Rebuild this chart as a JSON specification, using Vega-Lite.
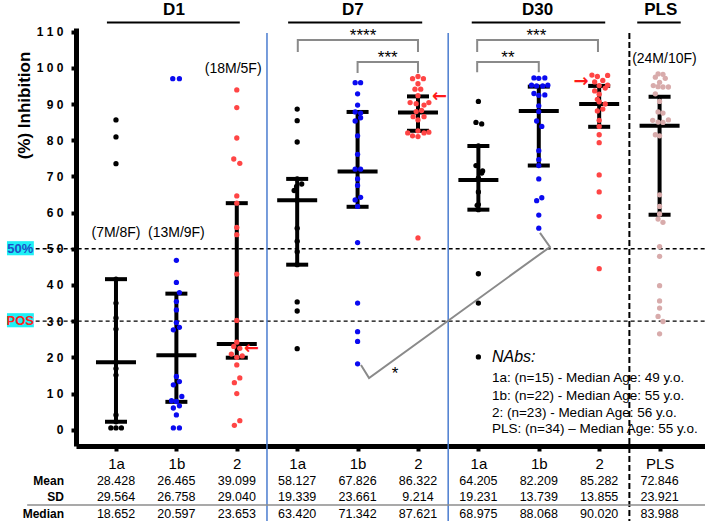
{
  "$schema": "https://vega.github.io/schema/vega-lite/v6.json",
  "width": 629,
  "height": 418,
  "autosize": {"type": "none"},
  "padding": {"left": 76, "top": 28, "right": 0, "bottom": 75},
  "background": "white",
  "config": {
    "view": {"stroke": null},
    "font": "Liberation Sans, Arial, sans-serif",
    "axisX": {"values": [0,1,2,3,4,5,6,7,8,9], "tickCount": 10, "labelExpr": "['1a','1b','2','1a','1b','2','1a','1b','2','PLS'][datum.value]", "grid": false, "domainColor": "black", "domainWidth": 5, "tickColor": "black", "tickWidth": 4, "tickSize": 5, "labelFont": "Liberation Sans Narrow, Liberation Sans, Arial, sans-serif", "labelFontSize": 15, "labelColor": "black", "labelPadding": 5, "labelFlush": false, "labelOverlap": false},
    "axisY": {"values": [0,10,20,30,40,50,60,70,80,90,100,110], "tickCount": 12, "labelExpr": "join(split(datum.label, ''), ' ')", "grid": false, "domainColor": "black", "domainWidth": 5, "tickColor": "black", "tickWidth": 4, "tickSize": 5, "labelFontWeight": "bold", "labelFontSize": 12, "labelColor": "black", "labelPadding": 8, "labelOverlap": false, "labelBound": false, "titleFontSize": 17, "titleFontWeight": "bold", "titleColor": "black", "titleX": -52, "titleY": 77, "titleAngle": -90, "titleAlign": "center", "titleBaseline": "middle"}
  },
  "resolve": {"scale": {"color": "independent"}},
  "datasets": {
    "dots": [
      {"g":"1a","x":0,"y":85.6},{"g":"1a","x":0,"y":80.9},{"g":"1a","x":0,"y":73.5},{"g":"1a","x":0,"y":41.6},{"g":"1a","x":0,"y":35.0},{"g":"1a","x":0,"y":30.9},{"g":"1a","x":0,"y":27.8},{"g":"1a","x":0,"y":18.7},{"g":"1a","x":0,"y":16.9},{"g":"1a","x":0,"y":15.1},{"g":"1a","x":0,"y":4.1},{"g":"1a","x":0,"y":2.2},{"g":"1a","x":-0.085,"y":0.5},{"g":"1a","x":0,"y":0.5},{"g":"1a","x":0.09,"y":0.5},
      {"g":"1b","x":0.94,"y":97.0},{"g":"1b","x":1.05,"y":97.0},{"g":"1b","x":1.0,"y":46.8},{"g":"1b","x":1.0,"y":40.7},{"g":"1b","x":1.05,"y":37.9},{"g":"1b","x":1.0,"y":35.4},{"g":"1b","x":1.0,"y":33.1},{"g":"1b","x":1.0,"y":29.6},{"g":"1b","x":0.95,"y":27.6},{"g":"1b","x":1.05,"y":28.3},{"g":"1b","x":1.0,"y":14.7},{"g":"1b","x":0.95,"y":12.4},{"g":"1b","x":1.05,"y":13.3},{"g":"1b","x":1.09,"y":9.2},{"g":"1b","x":0.92,"y":8.0},{"g":"1b","x":1.0,"y":7.8},{"g":"1b","x":0.95,"y":6.0},{"g":"1b","x":1.05,"y":6.6},{"g":"1b","x":1.0,"y":4.1},{"g":"1b","x":0.95,"y":0.5},{"g":"1b","x":1.05,"y":0.5},
      {"g":"2","x":2,"y":93.9},{"g":"2","x":2,"y":89.0},{"g":"2","x":2,"y":80.6},{"g":"2","x":1.95,"y":74.8},{"g":"2","x":2.05,"y":73.6},{"g":"2","x":2,"y":64.6},{"g":"2","x":2,"y":62.6},{"g":"2","x":2,"y":55.9},{"g":"2","x":2,"y":53.9},{"g":"2","x":2,"y":43.0},{"g":"2","x":2,"y":30.2},{"g":"2","x":2,"y":24.2},{"g":"2","x":1.95,"y":23.0},{"g":"2","x":2.05,"y":22.5},{"g":"2","x":1.91,"y":20.9},{"g":"2","x":2.09,"y":20.4},{"g":"2","x":2,"y":20.0},{"g":"2","x":2,"y":17.9},{"g":"2","x":2.05,"y":14.3},{"g":"2","x":1.96,"y":13.0},{"g":"2","x":2,"y":10.0},{"g":"2","x":2.05,"y":2.5},{"g":"2","x":1.96,"y":1.2},
      {"g":"1a","x":3,"y":88.6},{"g":"1a","x":3,"y":85.4},{"g":"1a","x":3,"y":79.5},{"g":"1a","x":3,"y":69.3},{"g":"1a","x":3.075,"y":67.9},{"g":"1a","x":2.99,"y":67.2},{"g":"1a","x":2.95,"y":66.1},{"g":"1a","x":3,"y":63.4},{"g":"1a","x":3,"y":55.7},{"g":"1a","x":3,"y":52.1},{"g":"1a","x":3,"y":49.2},{"g":"1a","x":3,"y":45.6},{"g":"1a","x":3,"y":35.3},{"g":"1a","x":3,"y":32.8},{"g":"1a","x":3,"y":22.4},
      {"g":"1b","x":3.96,"y":95.9},{"g":"1b","x":4.05,"y":95.9},{"g":"1b","x":4,"y":92.8},{"g":"1b","x":4,"y":89.7},{"g":"1b","x":3.96,"y":87.8},{"g":"1b","x":4.05,"y":87.5},{"g":"1b","x":4.05,"y":86.2},{"g":"1b","x":3.96,"y":85.3},{"g":"1b","x":4,"y":81.2},{"g":"1b","x":4,"y":76.1},{"g":"1b","x":3.96,"y":72.0},{"g":"1b","x":4.05,"y":72.0},{"g":"1b","x":4,"y":69.3},{"g":"1b","x":4,"y":67.5},{"g":"1b","x":4.05,"y":64.2},{"g":"1b","x":3.96,"y":63.5},{"g":"1b","x":4,"y":61.7},{"g":"1b","x":4,"y":51.7},{"g":"1b","x":4,"y":35.0},{"g":"1b","x":4,"y":27.1},{"g":"1b","x":4,"y":24.4},{"g":"1b","x":4,"y":18.2},
      {"g":"2","x":5,"y":97.6},{"g":"2","x":4.91,"y":97.0},{"g":"2","x":5.09,"y":97.0},{"g":"2","x":5,"y":95.6},{"g":"2","x":4.95,"y":94.1},{"g":"2","x":5.045,"y":94.1},{"g":"2","x":5,"y":92.3},{"g":"2","x":4.87,"y":90.4},{"g":"2","x":4.97,"y":90.1},{"g":"2","x":5.1,"y":89.7},{"g":"2","x":5.18,"y":90.4},{"g":"2","x":4.97,"y":87.9},{"g":"2","x":5.06,"y":88.2},{"g":"2","x":4.92,"y":86.5},{"g":"2","x":5.1,"y":86.5},{"g":"2","x":5,"y":85.6},{"g":"2","x":4.83,"y":82.0},{"g":"2","x":4.91,"y":81.2},{"g":"2","x":5,"y":82.6},{"g":"2","x":5.1,"y":82.0},{"g":"2","x":5.18,"y":82.2},{"g":"2","x":5,"y":81.0},{"g":"2","x":5,"y":53.0},
      {"g":"1a","x":6,"y":90.7},{"g":"1a","x":5.96,"y":84.9},{"g":"1a","x":6.055,"y":84.5},{"g":"1a","x":6,"y":78.4},{"g":"1a","x":5.96,"y":73.0},{"g":"1a","x":6.07,"y":71.5},{"g":"1a","x":6.055,"y":70.9},{"g":"1a","x":6,"y":69.5},{"g":"1a","x":6,"y":65.7},{"g":"1a","x":6,"y":62.2},{"g":"1a","x":5.98,"y":62.0},{"g":"1a","x":6,"y":60.8},{"g":"1a","x":6,"y":43.1},{"g":"1a","x":6,"y":35.0},{"g":"1a","x":6,"y":20.1},
      {"g":"1b","x":6.92,"y":97.2},{"g":"1b","x":7.0,"y":97.1},{"g":"1b","x":7.1,"y":97.2},{"g":"1b","x":6.88,"y":95.2},{"g":"1b","x":6.965,"y":95.0},{"g":"1b","x":7.065,"y":95.0},{"g":"1b","x":7.15,"y":95.2},{"g":"1b","x":6.92,"y":92.9},{"g":"1b","x":7,"y":92.4},{"g":"1b","x":7.1,"y":92.5},{"g":"1b","x":7,"y":89.5},{"g":"1b","x":7,"y":87.9},{"g":"1b","x":6.965,"y":85.3},{"g":"1b","x":7.05,"y":83.8},{"g":"1b","x":7,"y":77.1},{"g":"1b","x":7,"y":74.6},{"g":"1b","x":7,"y":73.0},{"g":"1b","x":7,"y":69.3},{"g":"1b","x":7.05,"y":64.1},{"g":"1b","x":6.965,"y":63.3},{"g":"1b","x":7,"y":59.3},{"g":"1b","x":7,"y":55.7},
      {"g":"2","x":7.88,"y":98.0},{"g":"2","x":7.97,"y":97.6},{"g":"2","x":8.14,"y":97.9},{"g":"2","x":7.925,"y":96.1},{"g":"2","x":8.06,"y":96.5},{"g":"2","x":8,"y":95.1},{"g":"2","x":8.14,"y":95.2},{"g":"2","x":7.925,"y":93.6},{"g":"2","x":8.1,"y":94.4},{"g":"2","x":8,"y":92.7},{"g":"2","x":7.97,"y":91.3},{"g":"2","x":8,"y":90.6},{"g":"2","x":8.1,"y":90.0},{"g":"2","x":7.97,"y":88.1},{"g":"2","x":8.06,"y":88.6},{"g":"2","x":8,"y":85.5},{"g":"2","x":8,"y":83.8},{"g":"2","x":8,"y":81.5},{"g":"2","x":8,"y":79.3},{"g":"2","x":8,"y":70.4},{"g":"2","x":8,"y":65.7},{"g":"2","x":8,"y":58.9},{"g":"2","x":8,"y":44.5},
      {"g":"PLS","x":8.975,"y":98.3},{"g":"PLS","x":9.056,"y":98.2},{"g":"PLS","x":8.93,"y":97.4},{"g":"PLS","x":9.094,"y":97.1},{"g":"PLS","x":9,"y":96.0},{"g":"PLS","x":8.896,"y":95.1},{"g":"PLS","x":8.975,"y":94.8},{"g":"PLS","x":9.056,"y":94.7},{"g":"PLS","x":9.146,"y":94.7},{"g":"PLS","x":8.93,"y":92.8},{"g":"PLS","x":9,"y":90.7},{"g":"PLS","x":8.975,"y":87.8},{"g":"PLS","x":9.056,"y":87.5},{"g":"PLS","x":8.886,"y":85.5},{"g":"PLS","x":8.975,"y":85.0},{"g":"PLS","x":9.056,"y":84.9},{"g":"PLS","x":9.146,"y":85.6},{"g":"PLS","x":8.93,"y":81.5},{"g":"PLS","x":9,"y":81.2},{"g":"PLS","x":9,"y":64.9},{"g":"PLS","x":9,"y":61.7},{"g":"PLS","x":9,"y":59.6},{"g":"PLS","x":8.975,"y":58.2},{"g":"PLS","x":9.056,"y":57.3},{"g":"PLS","x":9,"y":50.6},{"g":"PLS","x":9,"y":47.9},{"g":"PLS","x":9,"y":39.8},{"g":"PLS","x":9,"y":35.6},{"g":"PLS","x":9,"y":33.6},{"g":"PLS","x":8.975,"y":31.3},{"g":"PLS","x":9.056,"y":29.9},{"g":"PLS","x":9,"y":26.5}
    ],
    "summary": [
      {"c":0,"q1":2.2,"med":18.652,"q3":41.6},
      {"c":1,"q1":7.7,"med":20.597,"q3":37.6},
      {"c":2,"q1":19.9,"med":23.653,"q3":62.6},
      {"c":3,"q1":45.6,"med":63.42,"q3":69.3},
      {"c":4,"q1":61.6,"med":71.342,"q3":87.8},
      {"c":5,"q1":82.6,"med":87.621,"q3":92.1},
      {"c":6,"q1":60.8,"med":68.975,"q3":78.4},
      {"c":7,"q1":73.0,"med":88.068,"q3":94.8},
      {"c":8,"q1":83.7,"med":90.02,"q3":95.0},
      {"c":9,"q1":59.4,"med":83.988,"q3":92.0}
    ],
    "table": [
      {"c":0,"stat":"Mean","v":"28.428"},{"c":1,"stat":"Mean","v":"26.465"},{"c":2,"stat":"Mean","v":"39.099"},{"c":3,"stat":"Mean","v":"58.127"},{"c":4,"stat":"Mean","v":"67.826"},{"c":5,"stat":"Mean","v":"86.322"},{"c":6,"stat":"Mean","v":"64.205"},{"c":7,"stat":"Mean","v":"82.209"},{"c":8,"stat":"Mean","v":"85.282"},{"c":9,"stat":"Mean","v":"72.846"},
      {"c":0,"stat":"SD","v":"29.564"},{"c":1,"stat":"SD","v":"26.758"},{"c":2,"stat":"SD","v":"29.040"},{"c":3,"stat":"SD","v":"19.339"},{"c":4,"stat":"SD","v":"23.661"},{"c":5,"stat":"SD","v":"9.214"},{"c":6,"stat":"SD","v":"19.231"},{"c":7,"stat":"SD","v":"13.739"},{"c":8,"stat":"SD","v":"13.855"},{"c":9,"stat":"SD","v":"23.921"},
      {"c":0,"stat":"Median","v":"18.652"},{"c":1,"stat":"Median","v":"20.597"},{"c":2,"stat":"Median","v":"23.653"},{"c":3,"stat":"Median","v":"63.420"},{"c":4,"stat":"Median","v":"71.342"},{"c":5,"stat":"Median","v":"87.621"},{"c":6,"stat":"Median","v":"68.975"},{"c":7,"stat":"Median","v":"88.068"},{"c":8,"stat":"Median","v":"90.020"},{"c":9,"stat":"Median","v":"83.988"}
    ],
    "brackets": [
      {"b":1,"o":0,"x":3.01,"y":104.4},{"b":1,"o":1,"x":3.01,"y":107.7},{"b":1,"o":2,"x":5.0,"y":107.7},{"b":1,"o":3,"x":5.0,"y":104.4},
      {"b":2,"o":0,"x":4.0,"y":98.6},{"b":2,"o":1,"x":4.0,"y":101.6},{"b":2,"o":2,"x":5.0,"y":101.6},{"b":2,"o":3,"x":5.0,"y":98.6},
      {"b":3,"o":0,"x":5.98,"y":104.4},{"b":3,"o":1,"x":5.98,"y":107.7},{"b":3,"o":2,"x":7.98,"y":107.7},{"b":3,"o":3,"x":7.98,"y":104.4},
      {"b":4,"o":0,"x":5.98,"y":98.8},{"b":4,"o":1,"x":5.98,"y":101.6},{"b":4,"o":2,"x":7.0,"y":101.6},{"b":4,"o":3,"x":7.0,"y":98.8},
      {"b":5,"o":0,"x":4.056,"y":17.9},{"b":5,"o":1,"x":4.19,"y":14.3},{"b":5,"o":2,"x":7.185,"y":50.5},{"b":5,"o":3,"x":7.02,"y":54.4}
    ]
  },
  "layer": [
    {
      "data": {"values": [{"y": 50}, {"y": 30}]},
      "mark": {"type": "rule", "strokeDash": [4, 3], "strokeWidth": 1.3, "color": "black"},
      "encoding": {
        "x": {"datum": -1.33, "type": "quantitative", "scale": {"domain": [-0.662, 9.752], "nice": false, "zero": false}},
        "x2": {"datum": 9.752},
        "y": {"field": "y", "type": "quantitative", "scale": {"domain": [-4.5, 111], "nice": false, "zero": false}}
      }
    },
    {
      "data": {"values": [{"x": 2.5}, {"x": 5.5}]},
      "mark": {"type": "rule", "color": "#4a7ccf", "strokeWidth": 1.5},
      "encoding": {
        "x": {"field": "x", "type": "quantitative", "scale": {"domain": [-0.662, 9.752], "nice": false, "zero": false}},
        "y": {"datum": 109.6, "type": "quantitative", "scale": {"domain": [-4.5, 111], "nice": false, "zero": false}},
        "y2": {"datum": -26}
      }
    },
    {
      "data": {"values": [{"x": 8.5}]},
      "mark": {"type": "rule", "color": "black", "strokeWidth": 2, "strokeDash": [6, 3]},
      "encoding": {
        "x": {"field": "x", "type": "quantitative", "scale": {"domain": [-0.662, 9.752], "nice": false, "zero": false}},
        "y": {"datum": 109.6, "type": "quantitative", "scale": {"domain": [-4.5, 111], "nice": false, "zero": false}},
        "y2": {"datum": -26}
      }
    },
    {
      "data": {"values": [{"a": -0.15, "b": 2.05}, {"a": 2.85, "b": 5.07}, {"a": 5.89, "b": 8.1}, {"a": 8.63, "b": 9.35}]},
      "mark": {"type": "rule", "color": "black", "strokeWidth": 2},
      "encoding": {
        "x": {"field": "a", "type": "quantitative", "scale": {"domain": [-0.662, 9.752], "nice": false, "zero": false}},
        "x2": {"field": "b"},
        "y": {"datum": 112.5, "type": "quantitative", "scale": {"domain": [-4.5, 111], "nice": false, "zero": false}}
      }
    },
    {
      "data": {"values": [{"x": 0.96, "t": "D1"}, {"x": 3.92, "t": "D7"}, {"x": 6.98, "t": "D30"}, {"x": 9.02, "t": "PLS"}]},
      "mark": {"type": "text", "fontSize": 17, "fontWeight": "bold", "color": "black", "align": "center", "baseline": "middle"},
      "encoding": {
        "x": {"field": "x", "type": "quantitative", "scale": {"domain": [-0.662, 9.752], "nice": false, "zero": false}},
        "y": {"datum": 116, "type": "quantitative", "scale": {"domain": [-4.5, 111], "nice": false, "zero": false}},
        "text": {"field": "t"}
      }
    },
    {
      "data": {"name": "brackets"},
      "mark": {"type": "line", "color": "#8a8a8a", "strokeWidth": 2, "strokeJoin": "miter"},
      "encoding": {
        "x": {"field": "x", "type": "quantitative", "scale": {"domain": [-0.662, 9.752], "nice": false, "zero": false}},
        "y": {"field": "y", "type": "quantitative", "scale": {"domain": [-4.5, 111], "nice": false, "zero": false}},
        "detail": {"field": "b"},
        "order": {"field": "o"}
      }
    },
    {
      "data": {"values": [{"x": 4.09, "y": 108.8, "s": "****"}, {"x": 4.5, "y": 102.7, "s": "***"}, {"x": 6.96, "y": 108.8, "s": "***"}, {"x": 6.49, "y": 102.7, "s": "**"}, {"x": 4.62, "y": 15.4, "s": "*"}]},
      "mark": {"type": "text", "fontSize": 17, "color": "black", "align": "center", "baseline": "middle"},
      "encoding": {
        "x": {"field": "x", "type": "quantitative", "scale": {"domain": [-0.662, 9.752], "nice": false, "zero": false}},
        "y": {"field": "y", "type": "quantitative", "scale": {"domain": [-4.5, 111], "nice": false, "zero": false}},
        "text": {"field": "s"}
      }
    },
    {
      "data": {"name": "summary"},
      "mark": {"type": "rule", "color": "black", "strokeWidth": 4},
      "encoding": {
        "x": {"field": "c", "type": "quantitative", "scale": {"domain": [-0.662, 9.752], "nice": false, "zero": false}},
        "y": {"field": "q1", "type": "quantitative", "scale": {"domain": [-4.5, 111], "nice": false, "zero": false}},
        "y2": {"field": "q3"}
      }
    },
    {
      "data": {"name": "summary"},
      "mark": {"type": "tick", "orient": "horizontal", "size": 40, "thickness": 4, "color": "black", "opacity": 1},
      "encoding": {
        "x": {"field": "c", "type": "quantitative", "scale": {"domain": [-0.662, 9.752], "nice": false, "zero": false}},
        "y": {"field": "med", "type": "quantitative", "scale": {"domain": [-4.5, 111], "nice": false, "zero": false}}
      }
    },
    {
      "data": {"name": "summary"},
      "mark": {"type": "tick", "orient": "horizontal", "size": 22, "thickness": 4, "color": "black", "opacity": 1},
      "encoding": {
        "x": {"field": "c", "type": "quantitative", "scale": {"domain": [-0.662, 9.752], "nice": false, "zero": false}},
        "y": {"field": "q1", "type": "quantitative", "scale": {"domain": [-4.5, 111], "nice": false, "zero": false}}
      }
    },
    {
      "data": {"name": "summary"},
      "mark": {"type": "tick", "orient": "horizontal", "size": 22, "thickness": 4, "color": "black", "opacity": 1},
      "encoding": {
        "x": {"field": "c", "type": "quantitative", "scale": {"domain": [-0.662, 9.752], "nice": false, "zero": false}},
        "y": {"field": "q3", "type": "quantitative", "scale": {"domain": [-4.5, 111], "nice": false, "zero": false}}
      }
    },
    {
      "data": {"name": "dots"},
      "mark": {"type": "circle", "size": 28, "opacity": 1},
      "encoding": {
        "x": {"field": "x", "type": "quantitative", "scale": {"domain": [-0.662, 9.752], "nice": false, "zero": false}, "title": null},
        "y": {"field": "y", "type": "quantitative", "scale": {"domain": [-4.5, 111], "nice": false, "zero": false}, "title": "(%) Inhibition"},
        "color": {"field": "g", "type": "nominal", "scale": {"domain": ["1a", "1b", "2", "PLS"], "range": ["#000000", "#0a0af0", "#ff4545", "#d8abab"]}, "legend": null}
      }
    },
    {
      "data": {"values": [{"x": 2.243, "y": 22.4, "s": "←"}, {"x": 5.356, "y": 91.85, "s": "←"}, {"x": 7.699, "y": 96.0, "s": "→"}]},
      "mark": {"type": "text", "fontSize": 18, "fontWeight": "bold", "color": "#ff1a1a", "align": "center", "baseline": "middle", "font": "DejaVu Sans"},
      "encoding": {
        "x": {"field": "x", "type": "quantitative", "scale": {"domain": [-0.662, 9.752], "nice": false, "zero": false}},
        "y": {"field": "y", "type": "quantitative", "scale": {"domain": [-4.5, 111], "nice": false, "zero": false}},
        "text": {"field": "s"}
      }
    },
    {
      "data": {"values": [{"x": 0.0, "y": 54.4, "t": "(7M/8F)"}, {"x": 1.0, "y": 54.4, "t": "(13M/9F)"}, {"x": 1.94, "y": 99.7, "t": "(18M/5F)"}, {"x": 9.08, "y": 102.5, "t": "(24M/10F)"}]},
      "mark": {"type": "text", "fontSize": 14, "color": "black", "align": "center", "baseline": "middle"},
      "encoding": {
        "x": {"field": "x", "type": "quantitative", "scale": {"domain": [-0.662, 9.752], "nice": false, "zero": false}},
        "y": {"field": "y", "type": "quantitative", "scale": {"domain": [-4.5, 111], "nice": false, "zero": false}},
        "text": {"field": "t"}
      }
    },
    {
      "data": {"values": [{"y": 20.1, "t": "NAbs:"}]},
      "mark": {"type": "text", "fontSize": 16, "fontStyle": "italic", "color": "black", "align": "left", "baseline": "middle"},
      "encoding": {
        "x": {"datum": 6.225, "type": "quantitative", "scale": {"domain": [-0.662, 9.752], "nice": false, "zero": false}},
        "y": {"field": "y", "type": "quantitative", "scale": {"domain": [-4.5, 111], "nice": false, "zero": false}},
        "text": {"field": "t"}
      }
    },
    {
      "data": {"values": [{"y": 14.3, "t": "1a: (n=15) - Median Age: 49 y.o."}, {"y": 9.3, "t": "1b: (n=22) - Median Age: 55 y.o."}, {"y": 4.6, "t": "2: (n=23) - Median Age: 56 y.o."}, {"y": 0.2, "t": "PLS: (n=34) – Median Age: 55 y.o."}]},
      "mark": {"type": "text", "fontSize": 13.5, "color": "black", "align": "left", "baseline": "middle"},
      "encoding": {
        "x": {"datum": 6.225, "type": "quantitative", "scale": {"domain": [-0.662, 9.752], "nice": false, "zero": false}},
        "y": {"field": "y", "type": "quantitative", "scale": {"domain": [-4.5, 111], "nice": false, "zero": false}},
        "text": {"field": "t"}
      }
    },
    {
      "data": {"values": [{"t": "50%", "y1": 52.1, "y2": 48.2}, {"t": "POS", "y1": 32.2, "y2": 28.3}]},
      "mark": {"type": "rect", "color": "#1ef0f5"},
      "encoding": {
        "x": {"datum": -1.805, "type": "quantitative", "scale": {"domain": [-0.662, 9.752], "nice": false, "zero": false}},
        "x2": {"datum": -1.36},
        "y": {"field": "y1", "type": "quantitative", "scale": {"domain": [-4.5, 111], "nice": false, "zero": false}},
        "y2": {"field": "y2"}
      }
    },
    {
      "data": {"values": [{"t": "50%", "y": 50}]},
      "mark": {"type": "text", "fontSize": 13, "fontWeight": "bold", "align": "center", "baseline": "middle", "color": "#1f4fc6"},
      "encoding": {
        "x": {"datum": -1.585, "type": "quantitative", "scale": {"domain": [-0.662, 9.752], "nice": false, "zero": false}},
        "y": {"field": "y", "type": "quantitative", "scale": {"domain": [-4.5, 111], "nice": false, "zero": false}},
        "text": {"field": "t"}
      }
    },
    {
      "data": {"values": [{"t": "POS", "y": 30}]},
      "mark": {"type": "text", "fontSize": 13, "fontWeight": "bold", "align": "center", "baseline": "middle", "color": "#ff2020"},
      "encoding": {
        "x": {"datum": -1.585, "type": "quantitative", "scale": {"domain": [-0.662, 9.752], "nice": false, "zero": false}},
        "y": {"field": "y", "type": "quantitative", "scale": {"domain": [-4.5, 111], "nice": false, "zero": false}},
        "text": {"field": "t"}
      }
    },
    {
      "data": {"values": [{}]},
      "mark": {"type": "rule", "color": "#8c8c8c", "strokeWidth": 1.5},
      "encoding": {
        "x": {"datum": -1.47, "type": "quantitative", "scale": {"domain": [-0.662, 9.752], "nice": false, "zero": false}},
        "x2": {"datum": 9.752},
        "y": {"datum": -20.8, "type": "quantitative", "scale": {"domain": [-4.5, 111], "nice": false, "zero": false}}
      }
    },
    {
      "data": {"values": [{"s": "Mean", "y": -14.1}, {"s": "SD", "y": -18.5}, {"s": "Median", "y": -23.2}]},
      "mark": {"type": "text", "fontSize": 12, "fontWeight": "bold", "color": "black", "align": "right", "baseline": "middle"},
      "encoding": {
        "x": {"datum": -0.86, "type": "quantitative", "scale": {"domain": [-0.662, 9.752], "nice": false, "zero": false}},
        "y": {"field": "y", "type": "quantitative", "scale": {"domain": [-4.5, 111], "nice": false, "zero": false}},
        "text": {"field": "s"}
      }
    },
    {
      "data": {"name": "table"},
      "transform": [{"filter": "datum.stat === 'Mean'"}],
      "mark": {"type": "text", "fontSize": 12.5, "font": "Liberation Sans Narrow, Liberation Sans, Arial, sans-serif", "color": "black", "align": "center", "baseline": "middle"},
      "encoding": {
        "x": {"field": "c", "type": "quantitative", "scale": {"domain": [-0.662, 9.752], "nice": false, "zero": false}},
        "y": {"datum": -14.1, "type": "quantitative", "scale": {"domain": [-4.5, 111], "nice": false, "zero": false}},
        "text": {"field": "v"}
      }
    },
    {
      "data": {"name": "table"},
      "transform": [{"filter": "datum.stat === 'SD'"}],
      "mark": {"type": "text", "fontSize": 12.5, "font": "Liberation Sans Narrow, Liberation Sans, Arial, sans-serif", "color": "black", "align": "center", "baseline": "middle"},
      "encoding": {
        "x": {"field": "c", "type": "quantitative", "scale": {"domain": [-0.662, 9.752], "nice": false, "zero": false}},
        "y": {"datum": -18.5, "type": "quantitative", "scale": {"domain": [-4.5, 111], "nice": false, "zero": false}},
        "text": {"field": "v"}
      }
    },
    {
      "data": {"name": "table"},
      "transform": [{"filter": "datum.stat === 'Median'"}],
      "mark": {"type": "text", "fontSize": 12.5, "font": "Liberation Sans Narrow, Liberation Sans, Arial, sans-serif", "color": "black", "align": "center", "baseline": "middle"},
      "encoding": {
        "x": {"field": "c", "type": "quantitative", "scale": {"domain": [-0.662, 9.752], "nice": false, "zero": false}},
        "y": {"datum": -23.2, "type": "quantitative", "scale": {"domain": [-4.5, 111], "nice": false, "zero": false}},
        "text": {"field": "v"}
      }
    }
  ]
}
